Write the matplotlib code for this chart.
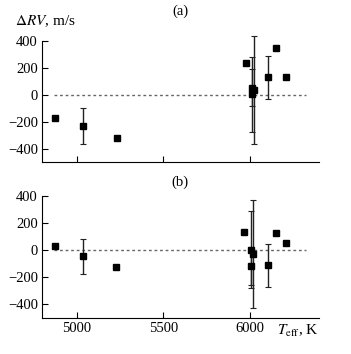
import matplotlib
matplotlib.use("Agg")
import matplotlib.pyplot as plt
import numpy as np

plt.rcParams['font.family'] = ['Liberation Serif', 'DejaVu Serif']
plt.rcParams['mathtext.fontset'] = 'stix'

# Panel (a)
teff_a = [4875, 5035, 5231, 5977, 6012, 6023, 6010, 6106, 6154, 6210]
drv_a = [-170, -233, -322, 238, 53, 34, 2, 129, 347, 129]
err_a = [0, 133, 0, 0, 140, 400, 280, 160, 0, 0]

# Panel (b)
teff_b = [4873, 5035, 5230, 5967, 6009, 6017, 6009, 6105, 6152, 6208]
drv_b = [29, -46, -126, 133, 5, -29, -114, -112, 126, 51]
err_b = [0, 130, 0, 0, 285, 400, 140, 160, 0, 0]

xticks = [5000, 5500, 6000]
yticks = [-400, -200, 0, 200, 400]

fig = plt.figure(figsize=(3.51, 3.54), dpi=100)
ax_a = fig.add_axes([0.1197, 0.5424, 0.7893, 0.3494])
ax_b = fig.add_axes([0.1197, 0.1017, 0.7893, 0.3523])

def draw(ax, x, y, e):
    x = np.array(x); y = np.array(y); e = np.array(e, dtype=float)
    m = e > 0
    ax.errorbar(x[m], y[m], yerr=e[m], fmt='none', ecolor='#222222',
                elinewidth=1.0, capsize=2, capthick=0.8, clip_on=False, zorder=2)
    ax.plot(x, y, 's', color='black', markersize=4.5, clip_on=False, zorder=3)
    ax.plot([4870, 6325], [0, 0], color='#666666', lw=1.0,
            linestyle=(0, (2.0, 2.0)), zorder=1)
    ax.set_xlim(4800, 6400)
    ax.set_ylim(-500, 420)
    ax.set_xticks(xticks)
    ax.set_yticks(yticks)
    ax.spines['top'].set_visible(False)
    ax.spines['right'].set_visible(False)
    ax.spines['left'].set_bounds(-500, 400)
    ax.tick_params(direction='in', length=4, width=0.8, labelsize=10.5, pad=3)
    ax.set_yticklabels([str(v).replace('-', '\u2212') for v in yticks])

draw(ax_a, teff_a, drv_a, err_a)
draw(ax_b, teff_b, drv_b, err_b)
ax_a.set_xticklabels([])
ax_b.set_xticklabels([str(v) for v in xticks])

fig.text(0.513, 0.969, '(a)', fontsize=10.5, ha='center', va='center')
fig.text(0.513, 0.484, '(b)', fontsize=10.5, ha='center', va='center')
fig.text(0.044, 0.940, r'$\Delta RV$, m/s', fontsize=11, ha='left', va='center')
fig.text(0.907, 0.066, r'$T_{\rm eff}$, K', fontsize=11, ha='right', va='center')

fig.savefig('out.png', dpi=100)
